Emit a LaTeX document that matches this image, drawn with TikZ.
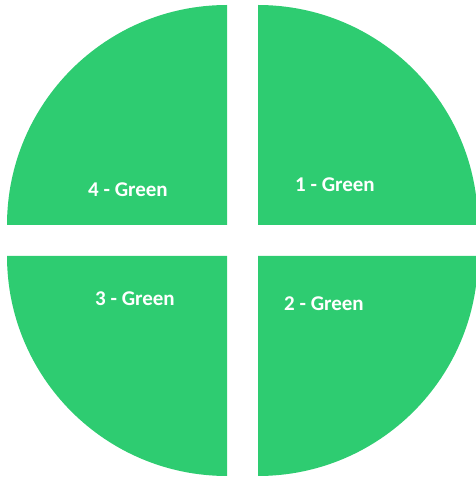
\documentclass[tikz,border=0pt]{standalone}
\usepackage{fontspec}
\newfontfamily\tagfont{Carlito}
\usepackage{tikz}
\usetikzlibrary{positioning}
\usepackage{xcolor}
\definecolor{leaf}{HTML}{2ECC71}
\tikzset{quarter/.style={fill=leaf,draw=none},
  tag/.style={text=white,font=\tagfont\bfseries\fontsize{21}{25}\selectfont,inner sep=0pt}}

\begin{document}
\begin{tikzpicture}[x=1pt, y=1pt]
        \clip (0,0) rectangle (476,477);
        \coordinate (c1) at (258,252);\coordinate (c2) at (258,221);
        \coordinate (c3) at (227,221);\coordinate (c4) at (227,252);
        \fill[quarter] (c1) -- ++(0,220) arc[start angle=90, end angle=0, radius=220] -- cycle;
        \fill[quarter] (c2) -- ++(220,0) arc[start angle=0, end angle=-90, radius=220] -- cycle;
        \fill[quarter] (c3) -- ++(0,-220) arc[start angle=270, end angle=180, radius=220] -- cycle;
        \fill[quarter] (c4) -- ++(-220,0) arc[start angle=180, end angle=90, radius=220] -- cycle;
        \node[tag] (one) at (335,292) {1 - Green};
        \node[tag] (two) at (324,173) {2 - Green};
        \node[tag] (three) at (135,178) {3 - Green};
        \node[tag] (four) at (128,287) {4 - Green};
      \end{tikzpicture}
\end{document}
